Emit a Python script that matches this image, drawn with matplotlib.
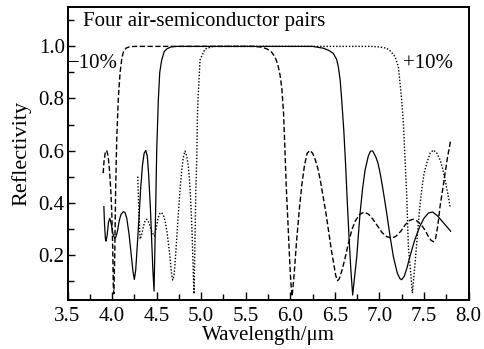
import matplotlib
matplotlib.use("Agg")
import matplotlib.pyplot as plt
from matplotlib.ticker import MultipleLocator

plt.rcParams['font.family'] = ['Liberation Serif', 'DejaVu Serif']

# nominal design (solid)
wl_nom = [3.908, 3.915, 3.925, 3.932, 3.945, 3.96, 3.975, 3.99, 4.01, 4.031, 4.045, 4.06,
          4.08, 4.10, 4.125, 4.145, 4.165, 4.19, 4.215, 4.235, 4.25, 4.265, 4.28, 4.30,
          4.32, 4.34, 4.36, 4.378, 4.395, 4.41, 4.43, 4.445, 4.458, 4.471, 4.485, 4.501,
          4.519, 4.535, 4.557, 4.585, 4.613, 4.66, 4.725, 5.5, 6.25, 6.371, 6.43, 6.483,
          6.52, 6.539, 6.56, 6.577, 6.60, 6.62, 6.64, 6.66, 6.68, 6.70, 6.72, 6.746, 6.765,
          6.783, 6.81, 6.839, 6.875, 6.90, 6.925, 6.96, 6.985, 7.01, 7.045, 7.082, 7.12,
          7.157, 7.20, 7.23, 7.25, 7.28, 7.31, 7.342, 7.40, 7.454, 7.50, 7.55, 7.596, 7.65,
          7.70, 7.75, 7.80]
r_nom = [0.385, 0.32, 0.262, 0.252, 0.275, 0.325, 0.34, 0.32, 0.28, 0.262, 0.27, 0.29,
         0.33, 0.355, 0.365, 0.362, 0.34, 0.28, 0.20, 0.135, 0.105, 0.14, 0.22, 0.33,
         0.45, 0.54, 0.59, 0.60, 0.58, 0.51, 0.38, 0.25, 0.14, 0.06, 0.30, 0.60,
         0.794, 0.90, 0.948, 0.98, 0.99, 0.998, 1.0, 1.0, 1.0, 0.993, 0.985, 0.973,
         0.95, 0.922, 0.87, 0.794, 0.68, 0.55, 0.40, 0.26, 0.14, 0.045, 0.11, 0.192, 0.28,
         0.359, 0.45, 0.525, 0.578, 0.598, 0.598, 0.575, 0.55, 0.51, 0.44, 0.359, 0.27,
         0.192, 0.13, 0.108, 0.104, 0.118, 0.15, 0.193, 0.26, 0.309, 0.34, 0.36, 0.364, 0.35,
         0.33, 0.31, 0.29]

# -10% (dashed)
wl_minus = [3.90, 3.91, 3.925, 3.94, 3.955, 3.97, 3.985, 3.996, 4.007, 4.014, 4.02, 4.03,
            4.04, 4.052, 4.07, 4.09, 4.11, 4.13, 4.16, 4.20, 4.26, 5.0, 5.6, 5.68, 5.74,
            5.79, 5.83, 5.86, 5.885, 5.905, 5.925, 5.94, 5.955, 5.97, 5.99, 6.005, 6.02,
            6.04, 6.07, 6.10, 6.13, 6.16, 6.19, 6.22, 6.25, 6.28, 6.31, 6.34, 6.37, 6.40,
            6.43, 6.46, 6.49, 6.51, 6.53, 6.55, 6.58, 6.61, 6.65, 6.69, 6.73, 6.78, 6.83,
            6.88, 6.93, 6.98, 7.03, 7.08, 7.14, 7.19, 7.24, 7.29, 7.34, 7.38, 7.42, 7.47,
            7.51, 7.55, 7.58, 7.606, 7.63, 7.655, 7.68, 7.71, 7.737, 7.765, 7.80]
r_minus = [0.513, 0.56, 0.595, 0.60, 0.58, 0.53, 0.45, 0.37, 0.23, 0.08, 0.05, 0.20,
           0.45, 0.64, 0.80, 0.90, 0.955, 0.982, 0.994, 0.999, 1.0, 1.0, 1.0, 0.997, 0.99,
           0.978, 0.958, 0.93, 0.89, 0.84, 0.74, 0.60, 0.46, 0.35, 0.20, 0.10, 0.04,
           0.11, 0.25, 0.37, 0.47, 0.545, 0.59, 0.60, 0.59, 0.565, 0.53, 0.48, 0.42, 0.36,
           0.29, 0.22, 0.16, 0.12, 0.10, 0.108, 0.14, 0.18, 0.24, 0.295, 0.33, 0.355, 0.364,
           0.355, 0.335, 0.31, 0.285, 0.27, 0.263, 0.272, 0.29, 0.315, 0.332, 0.336, 0.33, 0.315,
           0.295, 0.27, 0.255, 0.25, 0.262, 0.31, 0.384, 0.45, 0.513, 0.575, 0.64]

# +10% (dotted)
wl_plus = [4.288, 4.30, 4.314, 4.33, 4.351, 4.37, 4.389, 4.41, 4.43, 4.45, 4.475, 4.495,
           4.515, 4.538, 4.555, 4.575, 4.595, 4.613, 4.632, 4.65, 4.668, 4.68, 4.695, 4.707,
           4.725, 4.744, 4.765, 4.782, 4.80, 4.819, 4.838, 4.856, 4.87, 4.885, 4.898, 4.908,
           4.915, 4.92, 4.93, 4.94, 4.95, 4.957, 4.965, 4.987, 5.043, 5.136, 6.0, 6.9, 7.0,
           7.08, 7.13, 7.176, 7.213, 7.25, 7.27, 7.288, 7.307, 7.325, 7.355, 7.37, 7.385,
           7.40, 7.42, 7.437, 7.455, 7.475, 7.50, 7.531, 7.57, 7.606, 7.645, 7.681, 7.71,
           7.737, 7.765, 7.793]
r_plus = [0.50, 0.37, 0.26, 0.275, 0.307, 0.33, 0.336, 0.325, 0.305, 0.285, 0.272, 0.30,
          0.34, 0.359, 0.362, 0.352, 0.33, 0.295, 0.245, 0.19, 0.125, 0.103, 0.12, 0.167,
          0.26, 0.359, 0.46, 0.525, 0.575, 0.598, 0.58, 0.538, 0.48, 0.39, 0.28, 0.17,
          0.09, 0.05, 0.25, 0.45, 0.56, 0.72, 0.80, 0.948, 0.99, 1.0, 1.0, 1.0, 0.998,
          0.993, 0.98, 0.96, 0.922, 0.794, 0.70, 0.564, 0.423, 0.231, 0.116, 0.052, 0.11,
          0.167, 0.25, 0.32, 0.39, 0.449, 0.51, 0.551, 0.59, 0.602, 0.59, 0.564, 0.53,
          0.487, 0.44, 0.384]

fig = plt.figure(figsize=(4.84, 3.49), dpi=100)
ax = fig.add_axes([0.1395, 0.1404, 0.8285, 0.8386])

ax.plot(wl_nom, r_nom, color='black', lw=0.9)
ax.plot(wl_minus, r_minus, color='black', lw=1.0, dashes=(3.8, 1.8))
ax.plot(wl_plus, r_plus, color='black', lw=1.0, dashes=(1.0, 1.3))

ax.set_xlim(3.5, 8.0)
ax.set_ylim(0.026, 1.15)
ax.xaxis.set_major_locator(MultipleLocator(0.5))
ax.xaxis.set_minor_locator(MultipleLocator(0.25))
ax.set_yticks([0.2, 0.4, 0.6, 0.8, 1.0])
ax.yaxis.set_minor_locator(MultipleLocator(0.1))
ax.tick_params(which='both', direction='in', top=False, right=False, labelsize=15, width=1.0)
ax.tick_params(axis='x', which='major', length=6, pad=5)
ax.tick_params(axis='x', which='minor', length=4)
ax.tick_params(axis='y', which='major', length=5, pad=2)
ax.tick_params(axis='y', which='minor', length=4)
for s in ax.spines.values():
    s.set_linewidth(1.4)

ax.set_xlabel('Wavelength/\u03bcm', fontsize=15, labelpad=0)
ax.set_ylabel('Reflectivity', fontsize=16, labelpad=5)

ax.text(3.67, 1.095, 'Four air-semiconductor pairs', fontsize=15, va='center', ha='left')
ax.text(4.065, 0.935, '\u221210%', fontsize=15, va='center', ha='right')
ax.text(7.27, 0.935, '+10%', fontsize=15, va='center', ha='left')

fig.savefig('out.png', dpi=100)
